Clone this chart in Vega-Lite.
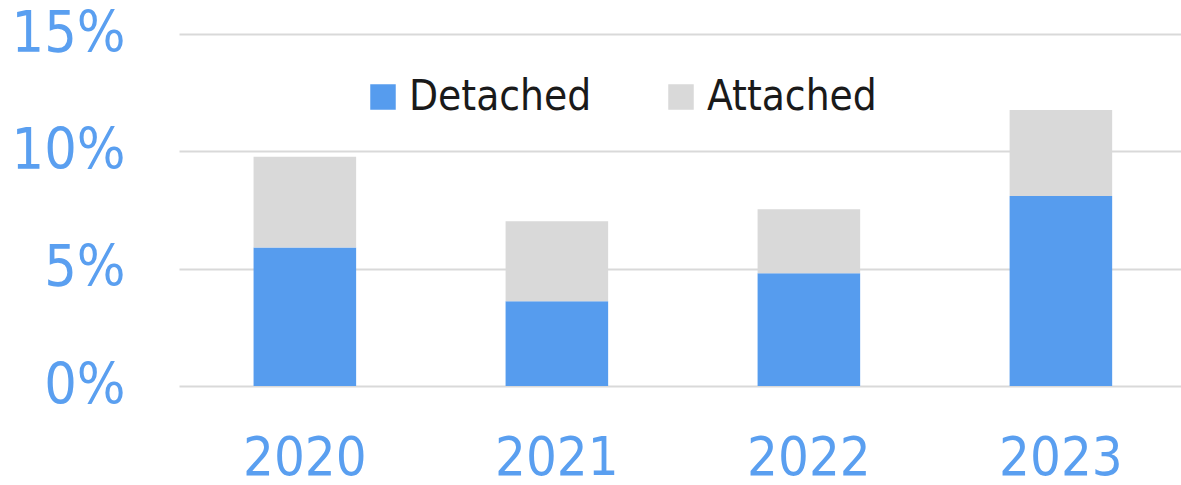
{
  "$schema": "https://vega.github.io/schema/vega-lite/v6.json",
  "autosize": "none",
  "width": 1002,
  "height": 352,
  "padding": {"left": 179, "top": 34, "right": 0, "bottom": 99},
  "background": "white",
  "config": {
    "view": {"stroke": null},
    "font": "'DejaVu Sans Condensed', 'DejaVu Sans'"
  },
  "data": {
    "values": [
      {"year": "2020", "type": "Detached", "share": 0.0590},
      {"year": "2020", "type": "Attached", "share": 0.0387},
      {"year": "2021", "type": "Detached", "share": 0.0361},
      {"year": "2021", "type": "Attached", "share": 0.0341},
      {"year": "2022", "type": "Detached", "share": 0.0480},
      {"year": "2022", "type": "Attached", "share": 0.0273},
      {"year": "2023", "type": "Detached", "share": 0.0810},
      {"year": "2023", "type": "Attached", "share": 0.0366}
    ]
  },
  "mark": {"type": "bar"},
  "encoding": {
    "x": {
      "field": "year",
      "type": "nominal",
      "title": null,
      "scale": {"paddingInner": 0.593, "paddingOuter": 0.2845, "align": 0.52},
      "axis": {
        "domain": false,
        "ticks": false,
        "labelAngle": 0,
        "labelFontSize": 54,
        "labelColor": "#5a9ff0",
        "labelPadding": 45,
        "labelBaseline": "top"
      }
    },
    "y": {
      "field": "share",
      "type": "quantitative",
      "stack": "zero",
      "title": null,
      "scale": {"domain": [0, 0.15], "nice": false},
      "axis": {
        "values": [0, 0.05, 0.1, 0.15],
        "format": ".0%",
        "domain": false,
        "ticks": false,
        "grid": true,
        "gridColor": "#d9d9d9",
        "gridWidth": 2,
        "labelFontSize": 57,
        "labelColor": "#5a9ff0",
        "labelPadding": 54,
        "labelBaseline": "middle"
      }
    },
    "color": {
      "field": "type",
      "type": "nominal",
      "scale": {"domain": ["Detached", "Attached"], "range": ["#569cee", "#d9d9d9"]},
      "legend": {
        "title": null,
        "orient": "none",
        "legendX": 183,
        "legendY": 42,
        "direction": "horizontal",
        "symbolType": "square",
        "symbolSize": 650,
        "symbolStrokeWidth": 0,
        "symbolOpacity": 1,
        "labelFontSize": 42,
        "labelLimit": 500,
        "labelColor": "#1a1a1a",
        "labelOffset": 5,
        "columnPadding": 68,
        "padding": 0
      }
    },
    "order": {"field": "type", "sort": "descending"}
  }
}
